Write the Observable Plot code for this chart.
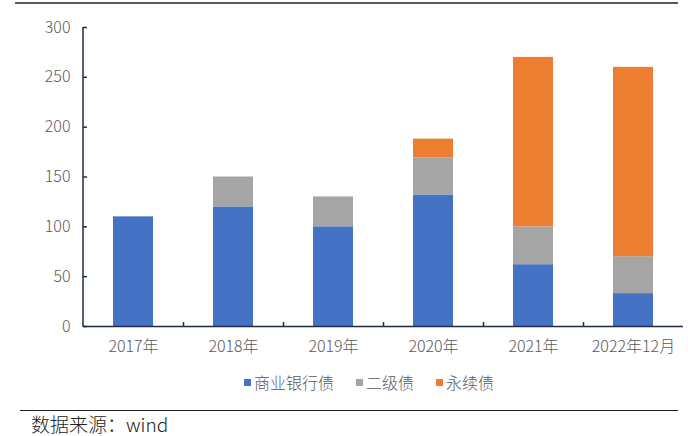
<!DOCTYPE html>
<html><head><meta charset="utf-8">
<script src="https://cdn.jsdelivr.net/npm/d3@7"></script>
<script src="https://cdn.jsdelivr.net/npm/@observablehq/plot@0.6"></script>
<style>
body{margin:0;background:#fff;font-family:"Noto Sans CJK SC","Noto Sans",sans-serif;}
#wrap{position:relative;width:700px;height:436px;overflow:hidden;background:#fff}
#chart{position:absolute;left:0;top:0}
.topline{position:absolute;left:15px;top:2px;width:663px;border-top:2px solid #5a5a5a}
.legend{position:absolute;left:244px;top:371px;display:flex;align-items:center;font-size:16px;color:#595959;line-height:22px;white-space:nowrap;font-weight:300}
.legend .item{display:flex;align-items:center;margin-right:22px}
.legend .sw{width:7px;height:7px;margin-right:3px}
.botline{position:absolute;left:20px;top:410px;width:658px;border-top:1.5px solid #222}
.source{position:absolute;left:31px;top:412px;font-size:19px;color:#222;line-height:24px;white-space:nowrap;font-weight:300}
</style></head>
<body>
<div id="wrap">
  <div class="topline"></div>
  <div id="chart"></div>
  <div class="legend" id="legend"></div>
  <div class="botline"></div>
  <div class="source">数据来源：wind</div>
</div>
<script>
const categories = ["2017年","2018年","2019年","2020年","2021年","2022年12月"];
const series = ["商业银行债","二级债","永续债"];
const colors = ["#4472C4","#A5A5A5","#ED7D31"];
const bankBonds = [110,120,100,132,62,33];
const tier2 = [0,30,30,37,38,37];
const perpetual = [0,0,0,19,170,190];
const yTicks = [0,50,100,150,200,250,300];

const seriesValues = [bankBonds, tier2, perpetual];
const data = [];
series.forEach((s, si) => {
  categories.forEach((c, ci) => {
    data.push({cat: c, series: s, value: seriesValues[si][ci]});
  });
});

const navy = "#1f2a44";
const plot = Plot.plot({
  width: 700,
  height: 360,
  marginTop: 27,
  marginBottom: 34,
  marginLeft: 83,
  marginRight: 17,
  style: {fontFamily: '"Noto Sans CJK SC","Noto Sans",sans-serif', fontSize: "16px", background: "transparent", fontWeight: 300},
  x: {domain: categories, paddingInner: 0.6, paddingOuter: 0.3, label: null},
  y: {domain: [0, 300], label: null},
  color: {domain: series, range: colors},
  marks: [
    Plot.barY(data, {x: "cat", y: "value", fill: "series"}),
    Plot.ruleY([0], {stroke: navy, strokeWidth: 1.5}),
    Plot.ruleX(categories.slice(1), {x: d => d, dx: -50, y1: 0, y2: 4, stroke: navy, strokeWidth: 1.5}),
    Plot.axisY(yTicks, {tickSize: -4, tickPadding: 17, stroke: navy, fill: "#595959", fontSize: 16, strokeWidth: 1.5}),
    Plot.axisX({tickSize: 0, tickPadding: 14, fill: "#595959", fontSize: 16})
  ]
});
document.getElementById("chart").appendChild(plot);

// y-axis domain line derived from the scales
const ys = plot.scale("y");
d3.select(plot).append("line")
  .attr("x1", 83).attr("x2", 83)
  .attr("y1", ys.apply(0) + 0.75).attr("y2", ys.apply(300))
  .attr("stroke", navy).attr("stroke-width", 1.5);

const lg = document.getElementById("legend");
series.forEach((s, i) => {
  const it = document.createElement("div");
  it.className = "item";
  it.innerHTML = `<span class="sw" style="background:${colors[i]}"></span><span>${s}</span>`;
  lg.appendChild(it);
});
</script>
</body></html>
